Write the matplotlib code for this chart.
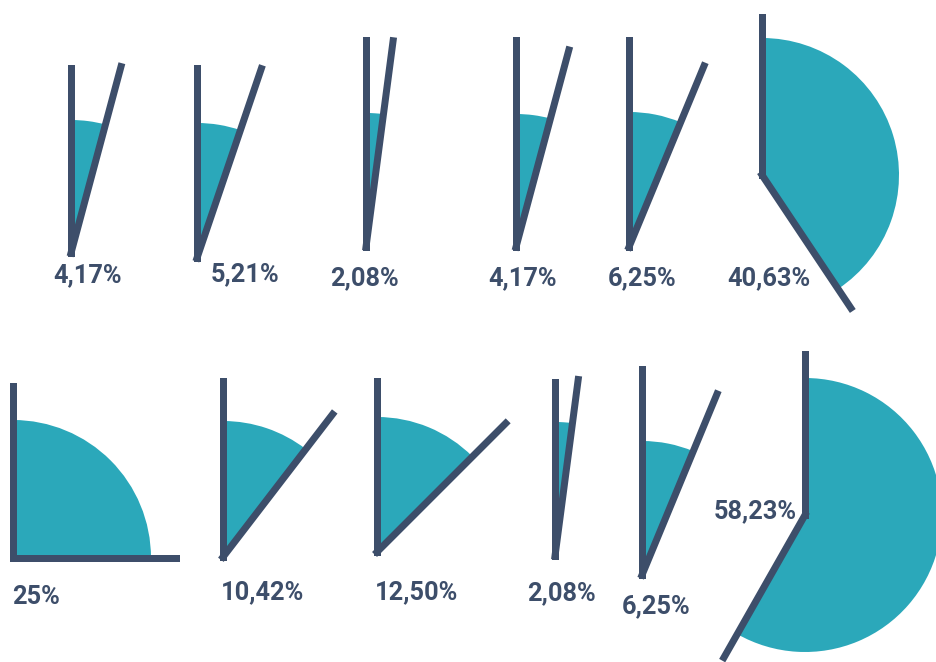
import matplotlib
matplotlib.use("Agg")
import matplotlib.pyplot as plt
from matplotlib.patches import Wedge
import numpy as np

# Share of each segment, in percent
shares = [4.17, 5.21, 2.08, 4.17, 6.25, 40.63,
          25.00, 10.42, 12.50, 2.08, 6.25, 58.23]

# Layout (pixel coordinates, y downwards)
vertices = [(71, 253), (197, 258), (366, 247), (516, 247), (629, 247), (762, 175),
            (13, 558), (223, 557), (377, 552), (555, 556), (642, 575), (805, 515)]
radii = [133, 135, 134, 133, 135, 137, 138, 136, 135, 134, 134, 137]
start_len = [185, 190, 207, 207, 207, 158, 172, 176, 171, 174, 206, 161]
end_len = [193, 200, 208, 204, 196, 160, 163, 180, 182, 178, 196, 164]
label_pos = [(88, 275), (245, 274), (365, 278), (523, 278), (642, 278), (769, 278),
             (36, 597), (263, 592), (417, 592), (562, 593), (656, 606), (755, 511)]

TEAL = "#2ba8ba"
NAVY = "#3d4e6a"

W, H = 937, 662
fig = plt.figure(figsize=(W / 100, H / 100), dpi=100)
ax = fig.add_axes([0, 0, 1, 1])
ax.set_xlim(0, W)
ax.set_ylim(H, 0)
ax.axis("off")

lw = 7 * 72 / 100  # 7 px stroke


def fmt(v):
    if abs(v - round(v)) < 1e-9:
        return f"{int(round(v))}%"
    return f"{v:.2f}".replace(".", ",") + "%"


for v, (cx, cy), r, ls, le, (lx, ly) in zip(shares, vertices, radii, start_len, end_len, label_pos):
    t1 = -90.0
    t2 = -90.0 + v * 3.6
    ax.add_patch(Wedge((cx, cy), r, t1, t2, facecolor=TEAL, edgecolor="none", zorder=1))
    for ang, L in ((t1, ls), (t2, le)):
        a = np.deg2rad(ang)
        ax.plot([cx, cx + L * np.cos(a)], [cy, cy + L * np.sin(a)],
                color=NAVY, lw=lw, solid_capstyle="projecting", zorder=2)
    ax.text(lx, ly, fmt(v), ha="center", va="center", color=NAVY,
            fontsize=18.3, fontweight="bold", family=["Roboto", "DejaVu Sans"], zorder=3)

fig.savefig("out.png", dpi=100, facecolor="white")
